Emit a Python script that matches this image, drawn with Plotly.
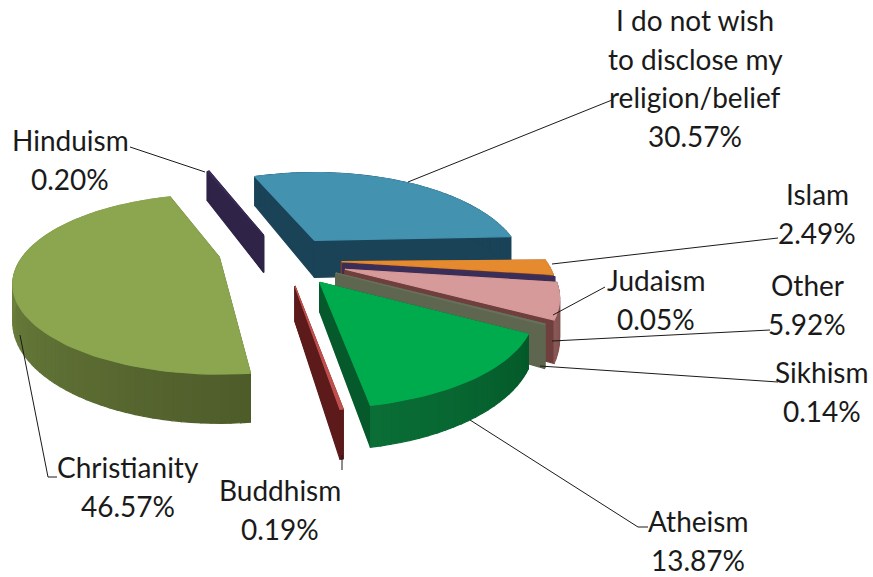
import math
import plotly.graph_objects as go

# Shares in percent, listed clockwise from the first slice
religions = ["I do not wish to disclose my religion/belief", "Islam", "Judaism", "Other",
             "Sikhism", "Atheism", "Buddhism", "Christianity", "Hinduism"]
shares = [30.57, 2.49, 0.05, 5.92, 0.14, 13.87, 0.19, 46.57, 0.20]

top_colors = ["#4392B0", "#E58A2E", "#3C2F5C", "#D69A9A", "#66705A", "#00AB4E", "#C0504D", "#8BA64F", "#3A2A55"]
rim_light = ["#1A4358", "#A3601C", "#3C2F5C", "#8C5A58", "#5E6650", "#0A6F36", "#5C1A1A", "#8AA350", "#2F2347"]
rim_dark = ["#1A4358", "#8A5018", "#3C2F5C", "#704844", "#5E6650", "#04592A", "#5C1A1A", "#4E5C2A", "#2F2347"]
wall_colors = ["#1A4358", "#7A3E2C", "#3A2D58", "#6E3F3C", "#5F6650", "#05592B", "#5C1A1A", "#4E5C2A", "#2F2347"]
explode = [0.27, 0.29, 0.30, 0.325, 0.30, 0.31, 0.30, 0.35, 0.30]
lift = [0, 0, 0, 0, 0, 0, 0, -11, 0]
twist = [-1.5, 0, 0, 0, 0, 0, 0, 3, 0]
rx_scale = [1.02, 1.05, 1.05, 1.05, 1.05, 1.05, 1, 1.01, 1]
ry_scale = [1, 1, 1, 1, 1, 1, 1, 0.93, 1]
depth_scale = [1, 1, 1, 1, 1, 0.8, 0.95, 0.93, 1]
draw_order = [0, 1, 2, 3, 4, 5, 8, 7, 6]

# Pie geometry on the page: tilt, perspective and thickness
START_DEG = -21.0
CX, CY, RX, RY, PERSP, DEPTH = 285.0, 260.0, 195.0, 88.0, 0.30, 37.0

# Each label is a list of stacked lines with its centre x and first line row
label_lines = {
    0: (695, 20, ["I do not wish", "to disclose my", "religion/belief"]),
    1: (817, 194, ["Islam"]),
    2: (656, 280, ["Judaism"]),
    3: (807, 285, ["Other"]),
    4: (822, 372, ["Sikhism"]),
    5: (698, 521, ["Atheism"]),
    6: (280, 490, ["Buddhism"]),
    7: (128, 467, ["Christianity"]),
    8: (70, 140, ["Hinduism"]),
}
LINE_STEP = 38.5

leaders = [
    [(408, 182), (612, 100)],
    [(552, 264), (778, 238)],
    [(553, 315), (605, 287)],
    [(552, 341), (770, 330)],
    [(540, 366), (778, 382)],
    [(470, 420), (638, 527), (648, 527)],
    [(342, 455), (342, 470)],
    [(20, 335), (48, 477), (57, 477)],
    [(130, 147), (205, 172)],
]


def mix(a, b, f):
    ca = [int(a[i:i + 2], 16) for i in (1, 3, 5)]
    cb = [int(b[i:i + 2], 16) for i in (1, 3, 5)]
    return "#%02X%02X%02X" % tuple(round(x + (y - x) * f) for x, y in zip(ca, cb))


def polygon(points, color):
    return go.Scatter(x=[p[0] for p in points] + [points[0][0]],
                      y=[p[1] for p in points] + [points[0][1]],
                      mode="lines", fill="toself", fillcolor=color,
                      line=dict(color=color, width=1.2), hoverinfo="skip", showlegend=False)


# Turn the shares into angular spans
spans = []
angle = START_DEG
for share in shares:
    spans.append((angle, angle + share * 3.6))
    angle += share * 3.6

fig = go.Figure()
for i in draw_order:
    a0, a1 = spans[i][0] + twist[i], spans[i][1] + twist[i]
    mid = math.radians((spans[i][0] + spans[i][1]) / 2)
    apex = (CX + RX * explode[i] * math.sin(mid), CY - RY * explode[i] * math.cos(mid) + lift[i])

    def project(ox, oy, z=0.0):
        # far points shrink, near points grow, measured from the slice's own apex
        w = 1.0 / (1.0 + PERSP * oy)
        return (apex[0] + RX * rx_scale[i] * ox * w,
                apex[1] - RY * ry_scale[i] * oy * w + DEPTH * depth_scale[i] * z * w)

    steps = max(2, int((a1 - a0) / 2))
    rim = [(math.sin(math.radians(a0 + (a1 - a0) * k / steps)),
            math.cos(math.radians(a0 + (a1 - a0) * k / steps))) for k in range(steps + 1)]
    # radial walls, then the outer wall in shaded strips, then the top face
    for edge in (rim[0], rim[-1]):
        fig.add_trace(polygon([project(0, 0), project(*edge), project(*edge, 1), project(0, 0, 1)], wall_colors[i]))
    for k in range(steps):
        fig.add_trace(polygon([project(*rim[k]), project(*rim[k + 1]), project(*rim[k + 1], 1), project(*rim[k], 1)],
                              mix(rim_dark[i], rim_light[i], k / steps)))
    fig.add_trace(polygon([project(0, 0)] + [project(*p) for p in rim], top_colors[i]))

for path in leaders:
    fig.add_trace(go.Scatter(x=[p[0] for p in path], y=[p[1] for p in path], mode="lines",
                             line=dict(color="#1A1A1A", width=1), hoverinfo="skip", showlegend=False))

for i, (x, y, lines) in label_lines.items():
    for n, text in enumerate(lines + [f"{shares[i]:.2f}%"]):
        fig.add_annotation(x=x, y=y + n * LINE_STEP, text=text, showarrow=False, xref="x", yref="y",
                           xanchor="center", yanchor="middle", bgcolor="rgba(255,255,255,0)",
                           font=dict(family="Lato", size=28, color="#1A1A1A"))

fig.update_layout(width=873, height=577, margin=dict(l=0, r=0, t=0, b=0),
                  paper_bgcolor="white", plot_bgcolor="white", showlegend=False,
                  xaxis=dict(range=[0, 873], visible=False, fixedrange=True),
                  yaxis=dict(range=[577, 0], visible=False, fixedrange=True))
fig.write_html("out.html")
